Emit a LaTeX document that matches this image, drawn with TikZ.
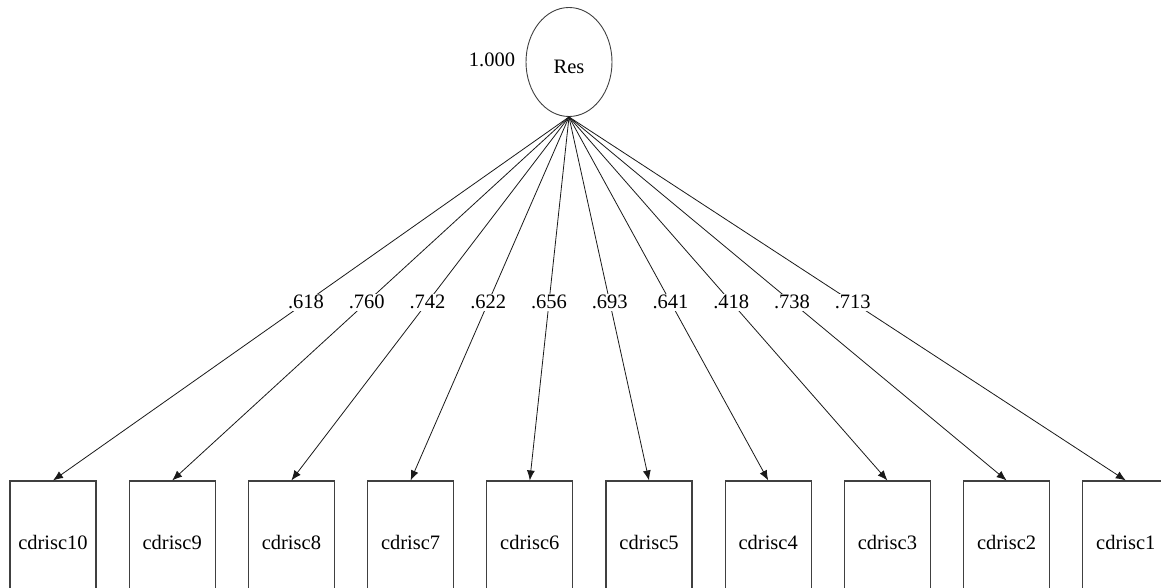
\documentclass[tikz,border=0pt]{standalone}
\usepackage{fontspec}
\setmainfont{Liberation Serif}
\usetikzlibrary{shapes.geometric,arrows.meta}
\begin{document}
\begin{tikzpicture}[x=1pt,y=-1pt,
  every node/.style={font=\fontsize{20.5}{24}\selectfont},
  latent/.style={draw=black!75,line width=0.9pt,ellipse,minimum width=86pt,minimum height=109pt,inner sep=0pt},
  obs/.style={draw=black!75,line width=1.1pt,rectangle,minimum width=86pt,minimum height=122pt,inner sep=0pt},
  path/.style={draw=black!90,line width=0.8pt,-{Latex[length=10pt,width=8pt]}},
  coef/.style={fill=white,inner sep=1.5pt,pos=0.5096}]
\useasboundingbox (0,0) rectangle (1161,588);
\clip (0,0) rectangle (1161,588);
\node[latent] (res) at (569,62) {\raisebox{-12pt}[0pt][0pt]{Res}};
\node (var) at (492,60) {1.000};
\foreach \n [count=\i from 0] in {10,9,8,7,6,5,4,3,2,1} {
  \node[obs] (c\n) at ({53+119.2*\i},542) {cdrisc\n};
}
\foreach \n/\v in {10/.618,9/.760,8/.742,7/.622,6/.656,5/.693,4/.641,3/.418,2/.738,1/.713} {
  \draw[path] (res.south) -- node[coef] {\v} (c\n.north);
}
\end{tikzpicture}
\end{document}
